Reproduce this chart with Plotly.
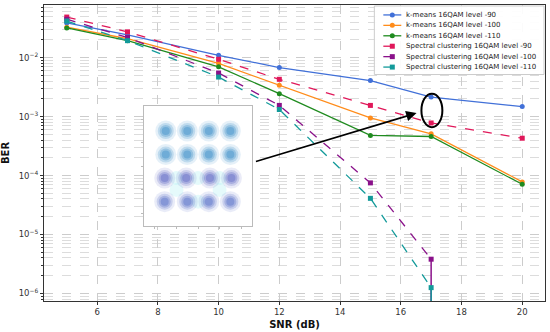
import plotly.graph_objects as go

snr = [5, 7, 10, 12, 15, 17, 20]
km90 = [3.9e-2, 2.45e-2, 1.1e-2, 6.8e-3, 4.1e-3, 2.15e-3, 1.48e-3]
km100 = [3.3e-2, 2.1e-2, 8.0e-3, 3.4e-3, 9.5e-4, 5.1e-4, 7.8e-5]
km110 = [3.2e-2, 1.95e-2, 7.0e-3, 2.45e-3, 4.8e-4, 4.6e-4, 7.1e-5]
sc90 = [4.9e-2, 2.75e-2, 9.4e-3, 4.3e-3, 1.55e-3, 7.8e-4, 4.3e-4]
sc100 = [4.5e-2, 2.2e-2, 5.5e-3, 1.55e-3, 7.5e-5, 3.8e-6, None]
sc110 = [4.2e-2, 1.95e-2, 4.7e-3, 1.32e-3, 4.1e-5, 1.25e-6, None]

names = ["k-means 16QAM level -90", "k-means 16QAM level -100", "k-means 16QAM level -110",
         "Spectral clustering 16QAM level -90", "Spectral clustering 16QAM level -100",
         "Spectral clustering 16QAM level -110"]
series = [km90, km100, km110, sc90, sc100, sc110]
colors = ["#4170d8", "#ff8c1a", "#1f8b1f", "#e0185a", "#8a118a", "#139a9a"]

# inset constellation (cluster centres, I/Q units)
cI = [-3, -1, 1, 3, -3, -1, 1, 3, -3.1, -1.1, 1.1, 3.1, -3.1, -1, 1, 3]
cQ = [3, 3, 3, 3, 1, 1, 1, 1, -1, -1, -1, -1, -3, -3, -3, -3]
cRGB = ["55,140,200"] * 8 + ["90,100,195"] * 4 + ["85,110,200"] * 4
hazeI = [0, -2, 2, 0, -2, 2]
hazeQ = [-1, -1, -1, -3, -2, -2]

ytv = [1e-6, 1e-5, 1e-4, 1e-3, 1e-2]
ytt = ["10<sup>\u22126</sup>", "10<sup>\u22125</sup>", "10<sup>\u22124</sup>",
       "10<sup>\u22123</sup>", "10<sup>\u22122</sup>"]

fig = go.Figure()
for i, (n, s, c) in enumerate(zip(names, series, colors)):
    dash = "solid" if i < 3 else "dash"
    sym = "circle" if i < 3 else "square"
    err = None
    if i in (4, 5):
        err = dict(type="data", symmetric=False, array=[0] * 7,
                   arrayminus=[0, 0, 0, 0, 0, s[5] * 0.999, 0],
                   color=c, thickness=1.5, width=0)
    fig.add_trace(go.Scatter(x=snr, y=s, name=n, mode="lines+markers", showlegend=False,
                             line=dict(color=c, width=1.3, dash=dash),
                             marker=dict(symbol=sym, size=5, color=c),
                             error_y=err, connectgaps=False))

# inset: soft blobs built from stacked translucent markers
fig.add_trace(go.Scatter(x=hazeI, y=hazeQ, mode="markers", xaxis="x2", yaxis="y2",
                         showlegend=False, hoverinfo="skip",
                         marker=dict(size=14, color="rgba(170,238,242,0.3)", line=dict(width=0))))
for size, a in [(21, 0.13), (16, 0.22), (12, 0.3), (8, 0.4)]:
    fig.add_trace(go.Scatter(x=cI, y=cQ, mode="markers", xaxis="x2", yaxis="y2",
                             showlegend=False, hoverinfo="skip",
                             marker=dict(size=size, color=[f"rgba({c},{a})" for c in cRGB],
                                         line=dict(width=0))))

# custom compact legend (paper coordinates of the plot area)
W, H, L, T = 502.0, 298.0, 44.0, 4.0
def px(x):
    return (x - L) / W
def py(y):
    return 1 - (y - T) / H

shapes = [dict(type="rect", xref="paper", yref="paper", x0=px(375), x1=px(545),
               y0=py(74), y1=py(5), line=dict(color="#cccccc", width=1),
               fillcolor="rgba(255,255,255,0.92)", layer="above")]
annotations = []
rows = [14, 24.5, 35, 45.5, 56, 66.5]
for i, (n, c, yy) in enumerate(zip(names, colors, rows)):
    shapes.append(dict(type="line", xref="paper", yref="paper", x0=px(384), x1=px(402),
                       y0=py(yy), y1=py(yy), layer="above",
                       line=dict(color=c, width=1.3, dash="solid" if i < 3 else "dash")))
    shapes.append(dict(type="circle" if i < 3 else "rect", xref="paper", yref="paper",
                       xsizemode="pixel", ysizemode="pixel", xanchor=px(393), yanchor=py(yy),
                       x0=-2.5, x1=2.5, y0=-2.5, y1=2.5, fillcolor=c, line=dict(width=0),
                       layer="above"))
    annotations.append(dict(x=px(405), y=py(yy), xref="paper", yref="paper", text=n,
                            showarrow=False, xanchor="left", yanchor="middle",
                            font=dict(size=7, color="#222")))

shapes.append(dict(type="circle", xref="x", yref="y", x0=16.68, x1=17.37,
                   y0=10 ** -3.18, y1=10 ** -2.61, line=dict(color="black", width=2)))
annotations.append(dict(x=16.52, y=-2.94, ax=11.18, ay=-3.77, xref="x", yref="y",
                        axref="x", ayref="y", showarrow=True, arrowhead=2, arrowsize=1.3,
                        arrowwidth=1.6, arrowcolor="black", text=""))

grid = "#cccccc"
fig.update_layout(
    width=550, height=332,
    margin=dict(l=44, r=4, t=4, b=30),
    paper_bgcolor="white", plot_bgcolor="white",
    font=dict(family="DejaVu Sans", size=8.5, color="#333"),
    showlegend=False,
    xaxis=dict(range=[4.25, 20.75], tickvals=[6, 8, 10, 12, 14, 16, 18, 20],
               showgrid=True, gridcolor=grid, griddash="dash", gridwidth=0.8,
               showline=True, linecolor="#333", mirror=True, linewidth=1,
               ticks="outside", ticklen=3, tickcolor="#333", zeroline=False,
               title=dict(text="<b>SNR (dB)</b>", standoff=4, font=dict(size=10, color="#111"))),
    yaxis=dict(type="log", range=[-6.13, -1.105], tickvals=ytv, ticktext=ytt,
               showgrid=True, gridcolor=grid, griddash="dash", gridwidth=0.8,
               showline=True, linecolor="#333", mirror=True, linewidth=1,
               ticks="outside", ticklen=3, tickcolor="#333",
               minor=dict(ticks="outside", ticklen=2, tickcolor="#333", showgrid=True,
                          gridcolor="#dcdcdc", griddash="dash", dtick="D1"),
               title=dict(text="<b>BER</b>", standoff=8, font=dict(size=10, color="#111"))),
    xaxis2=dict(domain=[0.199, 0.416], anchor="y2", range=[-5.05, 5.05],
                showgrid=False, zeroline=False, showline=True, linecolor="#bbb", mirror=True,
                ticks="outside", ticklen=2, tickcolor="#bbb", showticklabels=False, dtick=2),
    yaxis2=dict(domain=[0.252, 0.658], anchor="x2", range=[-5.1, 5.1],
                showgrid=False, zeroline=False, showline=True, linecolor="#bbb", mirror=True,
                ticks="outside", ticklen=2, tickcolor="#bbb", showticklabels=False, dtick=2),
    shapes=shapes,
    annotations=annotations,
)
fig.write_html("out.html", config={"displayModeBar": False},
               post_script="document.body.style.margin='0';document.body.style.padding='0';")
